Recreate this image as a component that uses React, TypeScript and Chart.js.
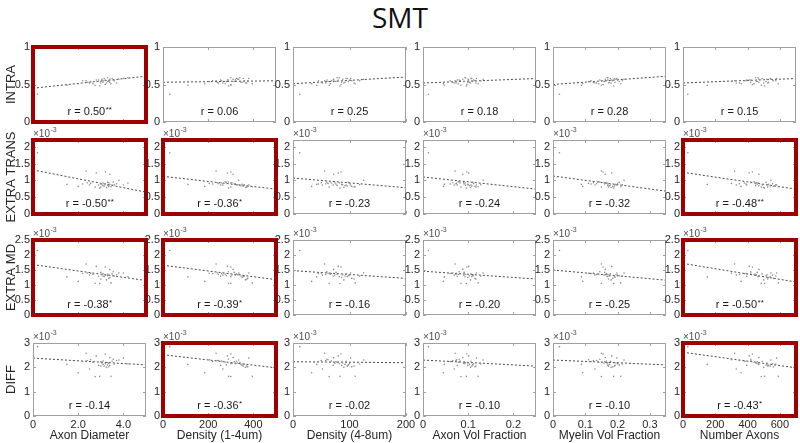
import React, { useEffect, useRef } from "react";
import { Chart, registerables } from "chart.js";

Chart.register(...registerables);

// ---------- DATA ----------
const rowNames = ["INTRA", "EXTRA TRANS", "EXTRA MD", "DIFF"];
const colNames = [
  "Axon Diameter",
  "Density (1-4um)",
  "Density (4-8um)",
  "Axon Vol Fraction",
  "Myelin Vol Fraction",
  "Number Axons",
];

const xMax = [5, 500, 200, 0.25, 0.35, 700];
const xTicks = [
  [0, 2, 4],
  [0, 200, 400],
  [0, 100, 200],
  [0, 0.1, 0.2],
  [0, 0.1, 0.2, 0.3],
  [0, 200, 400, 600],
];
const xTickLabels = [
  ["0", "2.0", "4.0"],
  ["0", "200", "400"],
  ["0", "100", "200"],
  ["0", "0.1", "0.2"],
  ["0", "0.1", "0.2", "0.3"],
  ["0", "200", "400", "600"],
];

const yMax = [1, 2.2, 2.5, 3];
const yTicks = [
  [0, 0.5, 1],
  [0, 0.5, 1, 1.5, 2],
  [0, 0.5, 1, 1.5, 2, 2.5],
  [0, 1, 2, 3],
];
const yTickLabels = [
  ["0", "0.5", "1"],
  ["0", "0.5", "1", "1.5", "2"],
  ["0", "0.5", "1", "1.5", "2", "2.5"],
  ["0", "1", "2", "3"],
];
const yExponent = ["", "-3", "-3", "-3"];

// per-subject microstructure measures (x variables)
const axonDiameter = [0.2, 1.5, 2.0, 2.35, 2.4, 2.5, 2.55, 2.65, 2.75, 2.8, 2.9, 2.95, 3.0, 3.05, 3.1, 3.1, 3.15, 3.2, 3.2, 3.25, 3.3, 3.3, 3.35, 3.4, 3.4, 3.45, 3.5, 3.55, 3.6, 3.7, 3.8, 4.0, 4.2, 2.2, 3.0, 3.35];
const density1to4 = [30, 110, 185, 235, 240, 265, 205, 275, 300, 285, 255, 290, 315, 330, 345, 260, 355, 300, 320, 365, 340, 280, 375, 310, 350, 395, 325, 290, 360, 245, 335, 380, 300, 220, 370, 305];
const density4to8 = [12, 42, 33, 56, 50, 52, 62, 66, 64, 80, 71, 83, 76, 88, 92, 68, 96, 85, 100, 90, 78, 98, 104, 72, 86, 110, 94, 60, 118, 58, 125, 102, 82, 45, 108, 74];
const axonVolFraction = [0.012, 0.047, 0.045, 0.071, 0.066, 0.069, 0.074, 0.078, 0.084, 0.101, 0.076, 0.096, 0.091, 0.1, 0.103, 0.082, 0.108, 0.097, 0.112, 0.105, 0.094, 0.11, 0.115, 0.088, 0.099, 0.122, 0.106, 0.08, 0.128, 0.073, 0.133, 0.118, 0.093, 0.06, 0.117, 0.09];
const myelinVolFraction = [0.02, 0.088, 0.092, 0.15, 0.125, 0.13, 0.11, 0.142, 0.15, 0.182, 0.17, 0.188, 0.16, 0.195, 0.175, 0.165, 0.19, 0.155, 0.2, 0.18, 0.17, 0.205, 0.185, 0.162, 0.192, 0.21, 0.178, 0.145, 0.215, 0.135, 0.22, 0.198, 0.168, 0.118, 0.172, 0.158];
const numberAxons = [30, 150, 360, 320, 420, 330, 300, 440, 485, 410, 395, 505, 460, 520, 470, 380, 540, 430, 555, 500, 450, 515, 560, 470, 530, 590, 490, 420, 575, 350, 545, 580, 465, 390, 525, 455];

// per-subject SMT measures (y variables; rows 2-4 in units of 1e-3)
const intra = [0.37, 0.49, 0.51, 0.55, 0.53, 0.52, 0.54, 0.51, 0.49, 0.56, 0.56, 0.48, 0.54, 0.57, 0.53, 0.55, 0.58, 0.5, 0.56, 0.52, 0.59, 0.54, 0.55, 0.57, 0.53, 0.51, 0.58, 0.56, 0.55, 0.52, 0.57, 0.58, 0.59, 0.55, 0.52, 0.54];
const extraTrans = [1.82, 0.88, 0.82, 1.28, 0.93, 0.86, 0.91, 0.96, 0.8, 1.22, 0.86, 0.77, 0.89, 0.87, 0.84, 0.92, 0.83, 1.25, 0.9, 0.79, 0.85, 0.94, 0.82, 1.18, 0.88, 0.81, 0.86, 0.95, 0.87, 0.9, 1.0, 0.86, 0.92, 0.89, 0.8, 0.93];
const extraMD = [2.15, 1.27, 1.12, 1.7, 1.4, 1.33, 1.39, 1.36, 1.06, 1.62, 1.29, 1.05, 1.42, 1.34, 1.3, 1.38, 1.28, 1.6, 1.33, 1.17, 1.36, 1.31, 1.22, 1.52, 1.25, 1.07, 1.37, 1.44, 1.3, 1.35, 1.4, 1.4, 1.28, 1.38, 1.2, 1.33];
const diff = [2.85, 2.12, 1.78, 2.58, 2.28, 1.93, 2.31, 2.21, 1.62, 2.47, 2.08, 1.63, 2.23, 2.18, 2.12, 2.26, 2.05, 2.55, 2.15, 2.0, 2.2, 2.1, 2.02, 2.4, 2.08, 1.63, 2.25, 2.33, 2.14, 2.28, 2.3, 2.38, 2.15, 2.24, 2.05, 2.17];

// fitted regression lines: [y at x = 0, y at x = axis max] for each column
const intraFit = [[0.45, 0.61], [0.53, 0.55], [0.51, 0.6], [0.52, 0.58], [0.5, 0.61], [0.52, 0.58]];
const extraTransFit = [[1.31, 0.65], [1.12, 0.74], [1.07, 0.78], [1.1, 0.74], [1.13, 0.68], [1.24, 0.74]];
const extraMDFit = [[1.68, 1.15], [1.66, 1.18], [1.48, 1.22], [1.46, 1.2], [1.5, 1.16], [1.72, 1.1]];
const diffFit = [[2.38, 2.1], [2.52, 1.98], [2.23, 2.19], [2.3, 2.05], [2.3, 2.1], [2.62, 1.98]];

// correlation labels and significance marks
const intraR = ["0.50", "0.06", "0.25", "0.18", "0.28", "0.15"];
const intraSig = ["**", "", "", "", "", ""];
const extraTransR = ["-0.50", "-0.36", "-0.23", "-0.24", "-0.32", "-0.48"];
const extraTransSig = ["**", "*", "", "", "", "**"];
const extraMDR = ["-0.38", "-0.39", "-0.16", "-0.20", "-0.25", "-0.50"];
const extraMDSig = ["*", "*", "", "", "", "**"];
const diffR = ["-0.14", "-0.36", "-0.02", "-0.10", "-0.10", "-0.43"];
const diffSig = ["", "*", "", "", "", "*"];

const xData = [axonDiameter, density1to4, density4to8, axonVolFraction, myelinVolFraction, numberAxons];
const yData = [intra, extraTrans, extraMD, diff];
const fits = [intraFit, extraTransFit, extraMDFit, diffFit];
const rLabels = [intraR, extraTransR, extraMDR, diffR];
const sigLabels = [intraSig, extraTransSig, extraMDSig, diffSig];

// ---------- LAYOUT ----------
const colLeft = [33, 163, 293, 423, 553, 683];
const rowTop = [47, 140, 240, 343];
const rowBottom = [122, 214, 315, 416];
const PLOT_W = 113;
const Y_AXIS_W = 33;
const PAD_TOP = 14;
const PAD_RIGHT = 14;

const FONT = "'Liberation Sans', Arial, Helvetica, sans-serif";
const TEXT = "#262626";

function Panel({ row, col }: { row: number; col: number }) {
  const ref = useRef<HTMLCanvasElement>(null);
  const isBottom = row === 3;
  const bottomExtra = isBottom ? 27 : 8;
  const left = colLeft[col] - Y_AXIS_W;
  const top = rowTop[row] - PAD_TOP;
  const w = Y_AXIS_W + PLOT_W + PAD_RIGHT;
  const h = PAD_TOP + (rowBottom[row] - rowTop[row]) + bottomExtra;

  useEffect(() => {
    if (!ref.current) return;
    const xs = xData[col];
    const ys = yData[row];
    const pts = xs.map((x, i) => ({ x, y: ys[i] }));
    const fit = fits[row][col];
    const sig = sigLabels[row][col];
    const rText = rLabels[row][col];

    const panelPlugin = {
      id: "panelDecor",
      afterDatasetsDraw(chart: any) {
        const { ctx, chartArea: a, scales } = chart;
        const sx = scales.x;
        const sy = scales.y;
        ctx.save();
        // axes box
        ctx.strokeStyle = "#a0a0a0";
        ctx.lineWidth = 1;
        ctx.strokeRect(a.left + 0.5, a.top + 0.5, a.right - a.left - 1, a.bottom - a.top - 1);
        // inner tick marks on all four sides
        ctx.beginPath();
        for (const v of xTicks[col]) {
          const px = Math.round(sx.getPixelForValue(v)) + 0.5;
          ctx.moveTo(px, a.bottom);
          ctx.lineTo(px, a.bottom - 3);
          ctx.moveTo(px, a.top);
          ctx.lineTo(px, a.top + 3);
        }
        for (const v of yTicks[row]) {
          const py = Math.round(sy.getPixelForValue(v)) + 0.5;
          ctx.moveTo(a.left, py);
          ctx.lineTo(a.left + 3, py);
          ctx.moveTo(a.right, py);
          ctx.lineTo(a.right - 3, py);
        }
        ctx.stroke();
        // highlight for significant correlations
        if (sig) {
          ctx.strokeStyle = "#a00000";
          ctx.lineWidth = 4;
          ctx.strokeRect(a.left, a.top, a.right - a.left, a.bottom - a.top);
        }
        // r label
        const main = "r = " + rText;
        ctx.fillStyle = "#1a1a1a";
        ctx.textBaseline = "alphabetic";
        ctx.textAlign = "left";
        ctx.font = "11px " + FONT;
        const mw = ctx.measureText(main).width;
        ctx.font = "8px " + FONT;
        const sw = sig ? ctx.measureText(sig).width : 0;
        const cx = (a.left + a.right) / 2;
        const startX = cx - (mw + sw) / 2;
        const baseY = a.bottom - 7;
        ctx.font = "11px " + FONT;
        ctx.fillText(main, startX, baseY);
        if (sig) {
          ctx.font = "8px " + FONT;
          ctx.fillText(sig, startX + mw + 0.5, baseY - 3);
        }
        // axis exponent
        if (yExponent[row]) {
          ctx.fillStyle = "#4d4d4d";
          ctx.font = "10px " + FONT;
          const base = "\u00d710";
          ctx.fillText(base, a.left, a.top - 3);
          const bw = ctx.measureText(base).width;
          ctx.font = "7px " + FONT;
          ctx.fillText(yExponent[row], a.left + bw + 0.5, a.top - 8);
        }
        ctx.restore();
      },
    };

    const chart = new Chart(ref.current, {
      type: "scatter",
      data: {
        datasets: [
          {
            data: pts,
            pointRadius: 0.8,
            pointBackgroundColor: "#8e8e8e",
            pointBorderWidth: 0,
            showLine: false,
          },
          {
            data: [
              { x: 0, y: fit[0] },
              { x: xMax[col], y: fit[1] },
            ],
            showLine: true,
            pointRadius: 0,
            borderColor: "#4a4a4a",
            borderWidth: 1,
            borderDash: [2, 2],
            fill: false,
          },
        ],
      },
      options: {
        animation: false,
        responsive: false,
        devicePixelRatio: 1,
        events: [],
        layout: { padding: { top: PAD_TOP, right: PAD_RIGHT, left: 0, bottom: 0 } },
        plugins: {
          legend: { display: false },
          tooltip: { enabled: false },
          title: { display: false },
        },
        scales: {
          x: {
            type: "linear",
            min: 0,
            max: xMax[col],
            grid: { display: false, drawTicks: false },
            border: { display: false },
            ticks: {
              display: isBottom,
              padding: 2,
              maxRotation: 0,
              autoSkip: false,
              color: TEXT,
              font: { family: FONT, size: 11 },
              callback: (_v: any, i: number) => xTickLabels[col][i],
            },
            title: {
              display: isBottom,
              text: colNames[col],
              color: TEXT,
              font: { family: FONT, size: 12 },
              padding: { top: 0, bottom: 0 },
            },
            afterBuildTicks: (s: any) => {
              s.ticks = xTicks[col].map((v) => ({ value: v }));
            },
            afterFit: (s: any) => {
              s.height = bottomExtra;
              s.paddingLeft = 0;
              s.paddingRight = 0;
            },
          },
          y: {
            type: "linear",
            min: 0,
            max: yMax[row],
            grid: { display: false, drawTicks: false },
            border: { display: false },
            ticks: {
              padding: 3,
              autoSkip: false,
              color: TEXT,
              font: { family: FONT, size: 11 },
              callback: (_v: any, i: number) => yTickLabels[row][i],
            },
            title: {
              display: col === 0,
              text: rowNames[row],
              color: TEXT,
              font: { family: FONT, size: 13 },
              padding: { top: 4, bottom: 0 },
            },
            afterBuildTicks: (s: any) => {
              s.ticks = yTicks[row].map((v) => ({ value: v }));
            },
            afterFit: (s: any) => {
              s.width = Y_AXIS_W;
              s.paddingTop = 0;
              s.paddingBottom = 0;
            },
          },
        },
      } as any,
      plugins: [panelPlugin],
    });
    return () => chart.destroy();
  }, [row, col]);

  return (
    <canvas
      ref={ref}
      width={w}
      height={h}
      style={{ position: "absolute", left, top, width: w, height: h, display: "block" }}
    />
  );
}

export default function App() {
  const rows = [0, 1, 2, 3];
  const cols = [0, 1, 2, 3, 4, 5];
  return (
    <div
      style={{
        position: "fixed",
        left: 0,
        top: 0,
        width: 800,
        height: 443,
        background: "#ffffff",
        overflow: "hidden",
      }}
    >
      <div
        style={{
          position: "absolute",
          left: 0,
          top: 3,
          width: 800,
          textAlign: "center",
          fontFamily: "'Open Sans', 'Noto Sans', sans-serif",
          fontSize: 28,
          lineHeight: "28px",
          color: "#111111",
        }}
      >
        SMT
      </div>
      {rows.map((r) => cols.map((c) => <Panel key={r + "-" + c} row={r} col={c} />))}
    </div>
  );
}
